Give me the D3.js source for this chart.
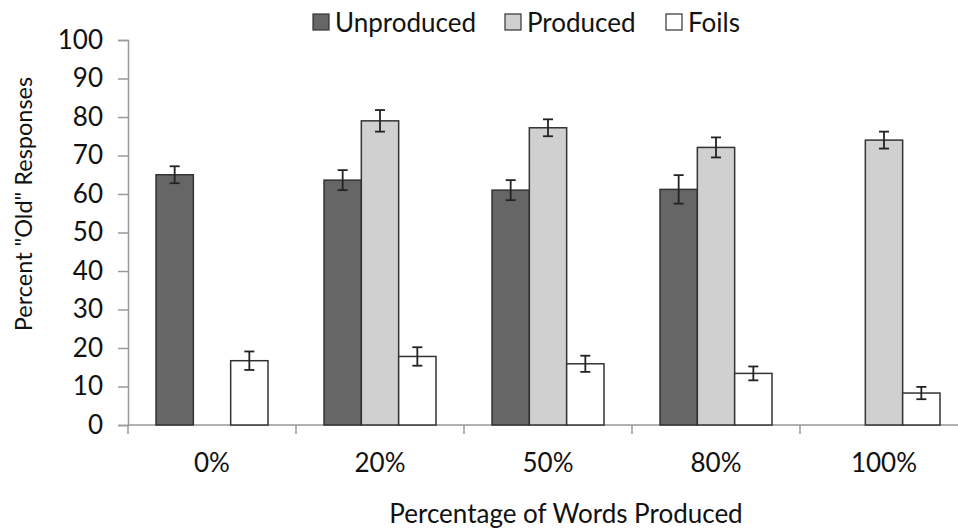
<!DOCTYPE html>
<html>
<head>
<meta charset="utf-8">
<script src="https://cdn.jsdelivr.net/npm/d3@7"></script>
<style>
  body { margin: 0; background: #fff; }
  text { font-family: Lato, "Open Sans", sans-serif; fill: #111; }
</style>
</head>
<body>
<div id="chart"></div>
<script>
'use strict';

const width = 958;
const height = 529;
const margin = { top: 40, right: -10, bottom: 104, left: 128 };

// data
const categories = ["0%", "20%", "50%", "80%", "100%"];
const seriesNames = ["Unproduced", "Produced", "Foils"];
const unproduced = [65.0, 63.6, 61.0, 61.2, null];
const unproducedErr = [2.2, 2.6, 2.6, 3.7, null];
const produced = [null, 79.0, 77.2, 72.1, 74.0];
const producedErr = [null, 2.8, 2.2, 2.6, 2.2];
const foils = [16.7, 17.8, 15.9, 13.4, 8.3];
const foilsErr = [2.4, 2.4, 2.1, 1.8, 1.6];
const yTicks = [0, 10, 20, 30, 40, 50, 60, 70, 80, 90, 100];

const colors = ["#666666", "#d0d0d0", "#ffffff"];
const fontSize = 26;

const rows = [];
categories.forEach((c, i) => {
    [[unproduced, unproducedErr], [produced, producedErr], [foils, foilsErr]].forEach((s, j) => {
        if (s[0][i] != null) rows.push({ cat: c, series: seriesNames[j], value: s[0][i], err: s[1][i] });
    });
});

const svg = d3.select("#chart").append("svg")
    .attr("width", width)
    .attr("height", height);

const x0 = d3.scaleBand()
    .domain(categories)
    .range([margin.left, width - margin.right])
    .paddingInner(1 / 3)
    .paddingOuter(1 / 6);

const x1 = d3.scaleBand()
    .domain(seriesNames)
    .range([0, x0.bandwidth()]);

const y = d3.scaleLinear()
    .domain([0, 100])
    .range([height - margin.bottom, margin.top]);

const color = d3.scaleOrdinal().domain(seriesNames).range(colors);

// y axis
const yAxis = svg.append("g")
    .attr("transform", `translate(${margin.left},0)`)
    .call(d3.axisLeft(y).tickValues(yTicks).tickSize(10).tickPadding(15));
yAxis.select(".domain").attr("stroke", "#999").attr("stroke-width", 1.5);
yAxis.selectAll(".tick line").attr("stroke", "#999").attr("stroke-width", 1.5);
yAxis.selectAll(".tick text").attr("font-size", fontSize).attr("fill", "#111");

// x axis: ticks sit between the groups
const step = x0.step();
const boundaries = d3.range(categories.length + 1).map(i => margin.left + i * step);
const xg = svg.append("g");
xg.append("line")
    .attr("x1", margin.left).attr("x2", width + 20)
    .attr("y1", y(0)).attr("y2", y(0))
    .attr("stroke", "#999").attr("stroke-width", 1.5);
xg.selectAll(".xt").data(boundaries).join("line")
    .attr("class", "xt")
    .attr("x1", d => d).attr("x2", d => d)
    .attr("y1", y(0)).attr("y2", y(0) + 9)
    .attr("stroke", "#999").attr("stroke-width", 1.5);
xg.selectAll(".xl").data(categories).join("text")
    .attr("class", "xl")
    .attr("x", d => x0(d) + x0.bandwidth() / 2)
    .attr("y", y(0) + 47)
    .attr("text-anchor", "middle")
    .attr("font-size", fontSize)
    .text(d => d);

// bars
svg.append("g").selectAll("rect").data(rows).join("rect")
    .attr("x", d => x0(d.cat) + x1(d.series))
    .attr("y", d => y(d.value))
    .attr("width", x1.bandwidth())
    .attr("height", d => y(0) - y(d.value))
    .attr("fill", d => color(d.series))
    .attr("stroke", "#333")
    .attr("stroke-width", 1.5);

// error bars
const eb = svg.append("g").attr("stroke", "#222").attr("stroke-width", 1.8);
rows.forEach(d => {
    const cx = x0(d.cat) + x1(d.series) + x1.bandwidth() / 2;
    eb.append("line").attr("x1", cx).attr("x2", cx)
        .attr("y1", y(d.value + d.err)).attr("y2", y(d.value - d.err));
    [d.value + d.err, d.value - d.err].forEach(v => {
        eb.append("line").attr("x1", cx - 5).attr("x2", cx + 5)
            .attr("y1", y(v)).attr("y2", y(v));
    });
});

// axis titles
svg.append("text")
    .attr("x", 566)
    .attr("y", 523)
    .attr("text-anchor", "middle")
    .attr("font-size", fontSize)
    .text("Percentage of Words Produced");

svg.append("text")
    .attr("transform", "translate(32,204) rotate(-90)")
    .attr("text-anchor", "middle")
    .attr("font-size", 23.5)
    .text('Percent "Old" Responses');

// legend
const legendX = [313, 505, 666];
const legend = svg.append("g").selectAll("g").data(seriesNames).join("g")
    .attr("transform", (d, i) => `translate(${legendX[i]},14)`);
legend.append("rect")
    .attr("width", 16).attr("height", 16)
    .attr("fill", d => color(d))
    .attr("stroke", "#333").attr("stroke-width", 1.2);
legend.append("text")
    .attr("x", 22).attr("y", 18)
    .attr("font-size", fontSize)
    .text(d => d);
</script>
</body>
</html>
